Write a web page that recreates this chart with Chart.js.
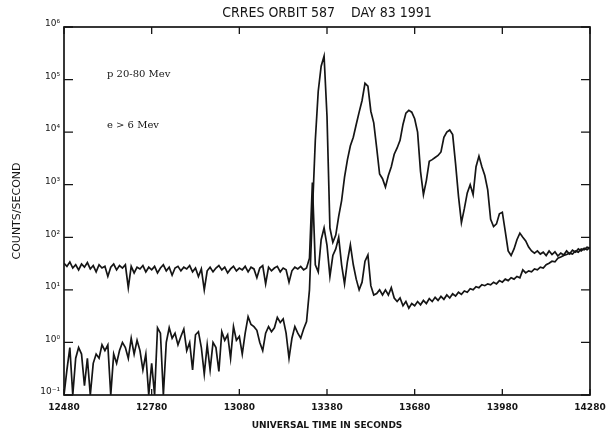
<!DOCTYPE html>
<html><head><meta charset="utf-8">
<script src="https://cdn.jsdelivr.net/npm/chart.js@4.4.1/dist/chart.umd.min.js"></script>
<style>html,body{margin:0;padding:0;background:#fff;}#wrap{width:608px;height:435px;}</style>
</head><body><div id="wrap"><canvas id="c" width="608" height="435"></canvas></div>
<script>
const chartTitle = 'CRRES ORBIT 587    DAY 83 1991';
const xAxisTitle = 'UNIVERSAL TIME IN SECONDS';
const yAxisTitle = 'COUNTS/SECOND';
const timeStart = 12480;
const timeStep = 10;
const xTickValues = [12480, 12780, 13080, 13380, 13680, 13980, 14280];
const xTickLabels = ['12480', '12780', '13080', '13380', '13680', '13980', '14280'];
const yTickValues = [0.1, 1, 10, 100, 1000, 10000, 100000, 1000000];
const yTickLabels = ['10\u207B\u00B9', '10\u2070', '10\u00B9', '10\u00B2', '10\u00B3', '10\u2074', '10\u2075', '10\u2076'];
const annotationTexts = ['p 20-80 Mev', 'e > 6 Mev'];
const annotationTimes = [12627, 12627];
const annotationCounts = [123000, 13700];

// series that starts near 1 count/s and carries the drift-echo peaks
const seriesLow = [
  0.1, 0.3, 0.8, 0.1, 0.5, 0.8, 0.6, 0.15, 0.5, 0.1,
  0.4, 0.6, 0.5, 0.9, 0.7, 0.9, 0.1, 0.6, 0.4, 0.7,
  1.0, 0.8, 0.5, 1.2, 0.6, 1.1, 0.7, 0.3, 0.6, 0.1,
  0.4, 0.1, 1.9, 1.5, 0.1, 1.0, 1.9, 1.2, 1.5, 0.9,
  1.3, 1.8, 0.7, 1.0, 0.3, 1.4, 1.6, 0.8, 0.25, 0.9,
  0.3, 1.0, 0.8, 0.28, 1.6, 1.1, 1.4, 0.5, 2.0, 1.1,
  1.3, 0.6, 1.5, 3.1, 2.2, 2.0, 1.7, 1.0, 0.7, 1.5,
  2.0, 1.6, 1.9, 3.0, 2.4, 2.8, 1.5, 0.5, 1.2, 2.0,
  1.5, 1.2, 1.8, 2.5, 10, 300, 7000, 60000, 180000, 280000,
  20000, 150, 80, 110, 250, 500, 1400, 3000, 5500, 8000,
  14000, 24000, 40000, 85000, 75000, 25000, 15000, 5000, 1600, 1300,
  900, 1500, 2200, 3800, 5000, 7000, 14000, 23000, 26000, 24000,
  18000, 10000, 1800, 650, 1200, 2800, 3000, 3300, 3600, 4200,
  8000, 10000, 11000, 9000, 2500, 600, 190, 350, 700, 1000,
  650, 2200, 3500, 2200, 1500, 800, 220, 160, 180, 280,
  300, 130, 55, 45, 60, 90, 120, 100, 85, 65,
  55, 50, 55, 48, 52, 45, 55, 47, 53, 44,
  50, 46, 55, 48, 57, 52, 60, 55, 62, 58, 64
];

// series that starts near 30 counts/s
const seriesHigh = [
  32, 28, 34, 26, 30, 24, 31, 27, 33, 25,
  29, 22, 30, 26, 28, 18, 27, 31, 24, 29,
  26, 30, 11, 28, 21, 27, 25, 29, 22, 27,
  24, 28, 21, 26, 30, 23, 27, 19, 26, 28,
  23, 27, 25, 29, 22, 26, 18, 25, 10, 23,
  27, 22, 26, 29, 24, 27, 21, 25, 28, 23,
  26, 24, 28, 22, 27, 25, 17, 26, 29, 13,
  27, 23, 26, 28, 22, 26, 24, 14, 23, 27,
  25, 28, 24, 26, 40, 1100, 30, 22, 90, 150,
  70, 18, 45, 60, 100, 30, 13, 35, 72, 30,
  16, 10, 14, 35, 46, 12, 8, 8.5, 10, 8,
  10, 8, 11, 7, 6, 7, 5, 6, 4.5, 5.5,
  5, 6, 5.2, 6.3, 5.5, 6.8, 6, 7.2, 6.3, 7.5,
  6.6, 8, 7, 8.4, 7.6, 9, 8.2, 9.5, 9, 10.5,
  10, 11.5, 11, 12.5, 12, 13, 12.5, 14, 13, 15,
  14, 16, 15, 17, 16, 18, 17, 24, 21, 23,
  22, 25, 24, 27, 26, 30, 32, 35, 34, 40,
  42, 45, 47, 50, 48, 55, 52, 60, 58, 65, 62
];

const toPoints = arr => arr.map((v, i) => ({ x: timeStart + i * timeStep, y: v }));
const ink = '#151515';

const decorPlugin = {
  id: 'decor',
  afterDatasetsDraw(chart) {
    const { ctx, chartArea: a, scales: { x, y } } = chart;
    ctx.save();
    ctx.strokeStyle = ink;
    ctx.lineWidth = 1.7;
    ctx.strokeRect(a.left, a.top, a.right - a.left, a.bottom - a.top);
    ctx.lineWidth = 1.3;
    ctx.beginPath();
    xTickValues.forEach(v => {
      const px = x.getPixelForValue(v);
      ctx.moveTo(px, a.top); ctx.lineTo(px, a.top + 7);
      ctx.moveTo(px, a.bottom); ctx.lineTo(px, a.bottom - 6);
    });
    yTickValues.forEach(v => {
      const py = y.getPixelForValue(v);
      ctx.moveTo(a.left, py); ctx.lineTo(a.left + 9, py);
      ctx.moveTo(a.right, py); ctx.lineTo(a.right - 9, py);
    });
    ctx.stroke();
    ctx.fillStyle = ink;
    ctx.textAlign = 'center';
    ctx.textBaseline = 'middle';
    ctx.font = "14px 'DejaVu Sans Condensed', 'DejaVu Sans', sans-serif";
    ctx.fillText(chartTitle, (a.left + a.right) / 2, 13);
    ctx.textAlign = 'left';
    ctx.font = "10px 'DejaVu Serif', serif";
    annotationTexts.forEach((t, i) => {
      ctx.fillText(t, x.getPixelForValue(annotationTimes[i]), y.getPixelForValue(annotationCounts[i]));
    });
    ctx.restore();
  }
};

new Chart(document.getElementById('c'), {
  type: 'line',
  data: {
    datasets: [
      { label: 'high', data: toPoints(seriesHigh), borderColor: ink, borderWidth: 1.7, pointRadius: 0, tension: 0, fill: false },
      { label: 'low', data: toPoints(seriesLow), borderColor: ink, borderWidth: 1.7, pointRadius: 0, tension: 0, fill: false }
    ]
  },
  options: {
    responsive: false,
    animation: false,
    devicePixelRatio: 1,
    layout: { padding: { top: 27, right: 18, left: 0, bottom: 0 } },
    plugins: { legend: { display: false }, tooltip: { enabled: false }, title: { display: false } },
    scales: {
      x: {
        type: 'linear',
        min: 12480, max: 14280,
        afterBuildTicks: s => { s.ticks = xTickValues.map(v => ({ value: v })); },
        afterFit: s => { s.height = 40; s.paddingLeft = 0; s.paddingRight = 0; },
        grid: { display: false, drawTicks: false },
        border: { display: false },
        ticks: {
          padding: 7,
          maxRotation: 0,
          autoSkip: false,
          color: ink,
          font: { family: "'DejaVu Sans', sans-serif", size: 9, weight: 'bold' },
          callback: (v, i) => xTickLabels[i]
        },
        title: {
          display: true, text: xAxisTitle, color: ink,
          font: { family: "'DejaVu Sans', sans-serif", size: 9, weight: 'bold' },
          padding: { top: 0, bottom: 4 }
        }
      },
      y: {
        type: 'logarithmic',
        min: 0.1, max: 1000000,
        afterBuildTicks: s => { s.ticks = yTickValues.map(v => ({ value: v })); },
        afterFit: s => { s.width = 64; s.paddingTop = 0; s.paddingBottom = 0; },
        grid: { display: false, drawTicks: false },
        border: { display: false },
        ticks: {
          padding: 4,
          labelOffset: -3,
          autoSkip: false,
          color: ink,
          font: { family: "'DejaVu Sans', sans-serif", size: 9 },
          callback: (v, i) => yTickLabels[i]
        },
        title: {
          display: true, text: yAxisTitle, color: ink,
          font: { family: "'DejaVu Sans', sans-serif", size: 11 },
          padding: { top: 11, bottom: 0 }
        }
      }
    }
  },
  plugins: [decorPlugin]
});
</script>
</body></html>
